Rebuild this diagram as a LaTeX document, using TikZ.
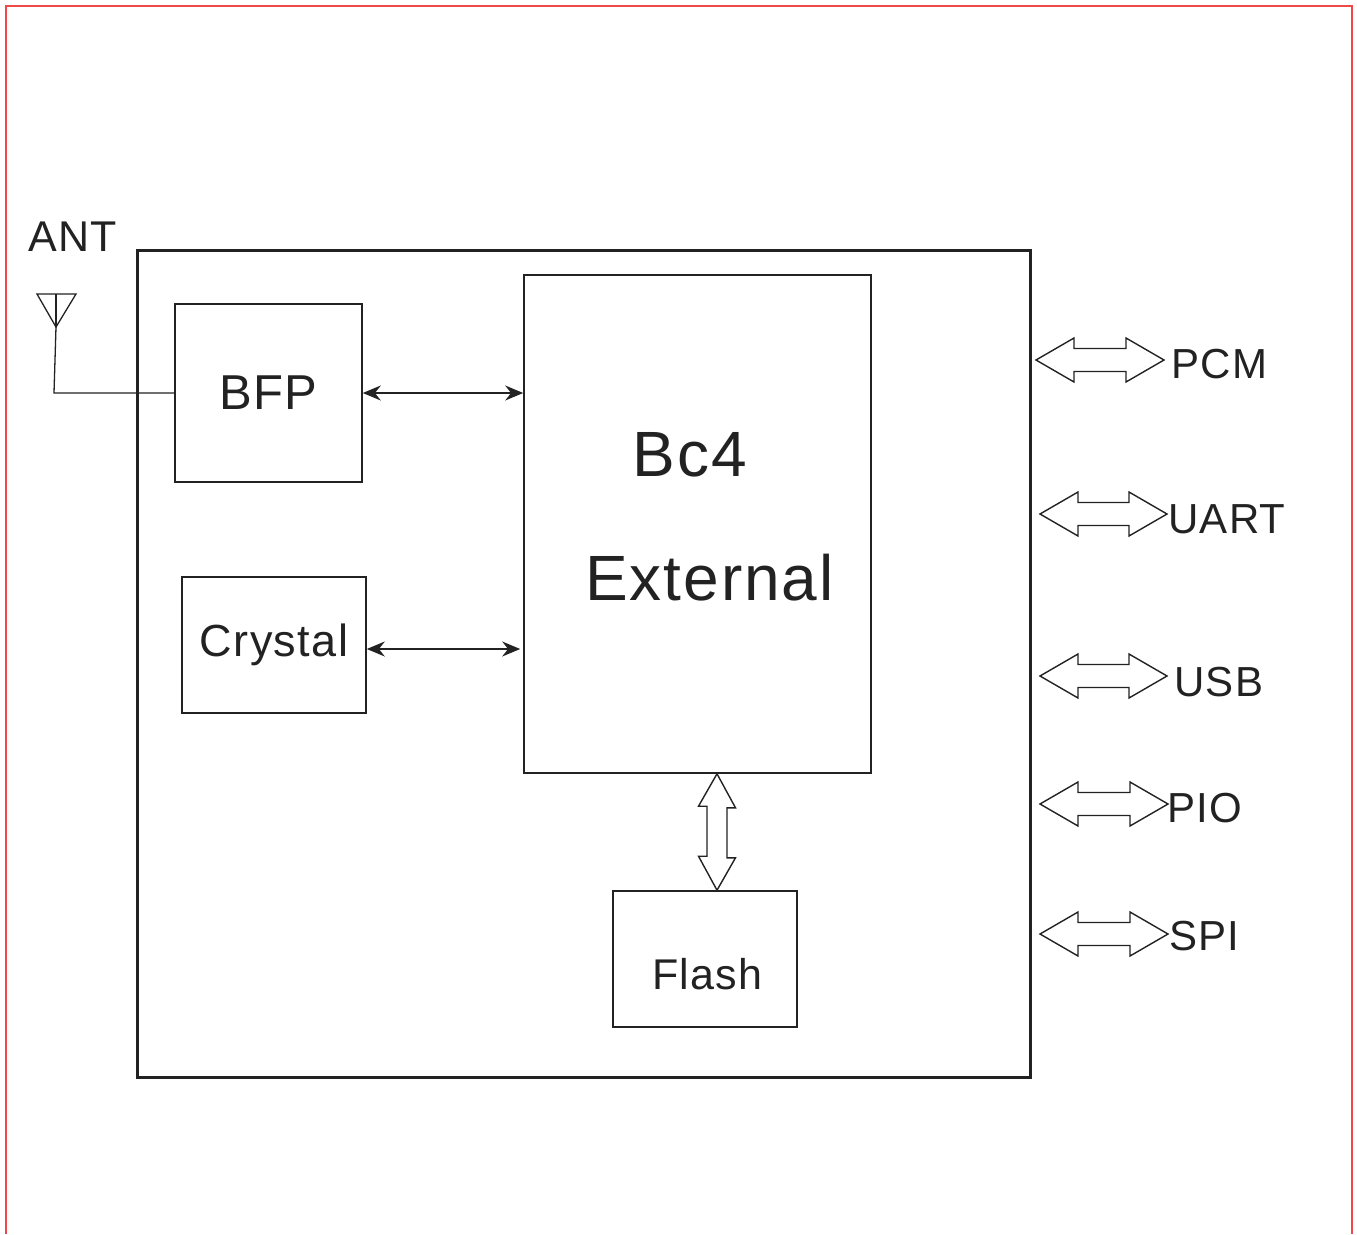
\documentclass[tikz,border=0pt]{standalone}
\usepackage{fontspec}
\setmainfont{Liberation Sans}[LetterSpace=3]
\usepackage{xcolor}
\usetikzlibrary{arrows.meta,calc}

\definecolor{frame}{RGB}{238,72,72}
\definecolor{ink}{RGB}{34,34,34}

\tikzset{
  box/.style = {draw=ink, line width=1.6pt, inner sep=0pt},
  arr/.style = {{Stealth[length=18pt,width=15pt]}-{Stealth[length=18pt,width=15pt]}, draw=ink, line width=1.4pt},
  bus/.style = {draw=ink, line width=1.4pt, line join=miter},
  lbl/.style = {inner sep=0pt, text=ink, font=\fontsize{42}{48}\selectfont},
  big/.style = {inner sep=0pt, text=ink, font=\fontsize{64}{72}\selectfont}
}

% hollow double arrow, horizontal, from tip (#1) to tip (#2)
\newcommand{\busarrow}[2]{%
  \draw[bus] (#1) -- ++(38,-22) -- ++(0,10.5) -- ($(#2)+(-38,-11.5)$) -- ++(0,-10.5) -- (#2)
    -- ++(-38,22) -- ++(0,-10.5) -- ($(#1)+(38,11.5)$) -- ++(0,10.5) -- cycle;}

\begin{document}
\begin{tikzpicture}[x=1pt, y=-1pt]
\useasboundingbox (0,0) rectangle (1357,1234);
\draw[frame, line width=2.8pt] (6,1234) -- (6,6) -- (1352,6) -- (1352,1234);

% module outline
\node[box, line width=3pt, minimum width=893pt, minimum height=827pt] (module) at (583.5,663.5) {};

% blocks
\node[box, minimum width=187pt, minimum height=178pt, font=\fontsize{49}{56}\selectfont, text=ink] (bfp) at (268.5,393) {BFP};
\node[box, minimum width=184pt, minimum height=136pt, font=\fontsize{45}{52}\selectfont, text=ink] (crystal) at (274,645) {Crystal};
\node[box, minimum width=347pt, minimum height=498pt] (bc) at (697.5,524) {};
\node[box, minimum width=184pt, minimum height=136pt] (flash) at (705,959) {};

\node[big, anchor=base] (bc-name) at (690,476) {Bc4};
\node[big, anchor=base] (bc-ext) at (709.5,600) {External};
\node[lbl, anchor=base, font=\fontsize{43}{50}\selectfont] (flash-name) at (707.5,989) {Flash};

% antenna
\node[lbl, anchor=base, font=\fontsize{43}{50}\selectfont] (ant-name) at (72.5,251) {ANT};
\coordinate (ant) at (56,327);
\draw[ink, line width=1.3pt] (37,294) -- (76,294) -- (ant) -- cycle;
\draw[ink, line width=1.3pt] (56,294) -- (ant);
\draw[ink, line width=1.3pt] (ant) -- (54,393) -- (bfp.west);

% links to the core
\draw[arr] (bfp.east) -- (bfp.east -| bc.west);
\draw[arr] ([yshift=-4]crystal.east) -- ([xshift=-3,yshift=-4]crystal.east -| bc.west);

% core to flash
\draw[bus] ([xshift=12]flash.north |- bc.south) -- ++(18.5,34) -- ++(-8.5,0) -- ++(0,50) -- ++(8.5,0)
  -- ([xshift=12]flash.north) -- ++(-18.5,-34) -- ++(8.5,0) -- ++(0,-50) -- ++(-8.5,0) -- cycle;

% interfaces
\foreach \nm/\yy/\xa/\xb/\xt/\bl in {PCM/360/1036/1164/1171/378, UART/514/1040/1167/1168/533,
    USB/676/1040/1167/1174/696, PIO/804/1040/1168/1167/822, SPI/934/1040/1168/1169/950} {
  \node[lbl, anchor=base west] (\nm) at (\xt,\bl) {\nm};
  \coordinate (\nm-a) at (\xa,\yy);
  \coordinate (\nm-b) at (\xb,\yy);
  \busarrow{\nm-a}{\nm-b}
}
\end{tikzpicture}
\end{document}
